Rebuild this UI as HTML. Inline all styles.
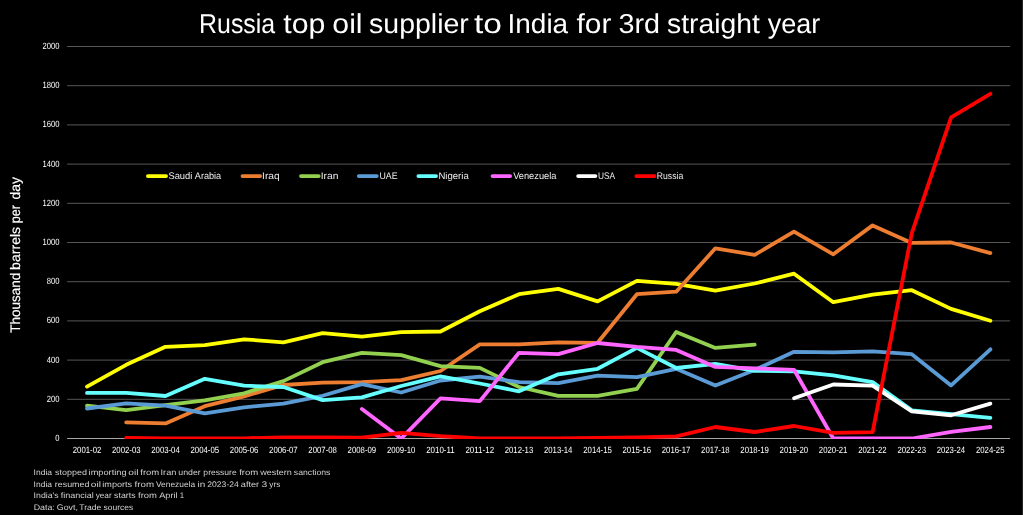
<!DOCTYPE html>
<html lang="en">
<head>
<meta charset="utf-8">
<title>Russia top oil supplier to India for 3rd straight year</title>
<style>
html,body{margin:0;padding:0;background:#000;}
body{width:1024px;height:515px;overflow:hidden;position:relative;}
svg{position:absolute;left:0;top:0;display:block;}
text{font-family:"Liberation Sans","DejaVu Sans",sans-serif;fill:#fff;white-space:pre;text-rendering:geometricPrecision;}
.grid line{stroke:#575757;stroke-width:1;}
.axis{stroke:#a6a6a6;stroke-width:1;}
.tick{font-size:9.0px;fill:#f8f8f8;}
.leg{font-size:9.6px;fill:#ececec;}
.note{font-size:8.1px;fill:#d2d2d2;}
.series path{fill:none;stroke-width:3.8;stroke-linecap:round;stroke-linejoin:round;}
.legend line{stroke-width:3.8;stroke-linecap:round;}
</style>
</head>
<body>
<svg width="1024" height="515" viewBox="0 0 1024 515">
<defs><clipPath id="plot"><rect x="0" y="0" width="1024" height="439"/></clipPath></defs>
<rect x="0" y="0" width="1024" height="515" fill="#000"/>
<rect x="1022.85" y="0" width="1.15" height="515" fill="#fff"/>

<text y="33.3" font-size="27.4" xml:space="preserve"><tspan x="199.05" textLength="83.05" lengthAdjust="spacingAndGlyphs">Russia </tspan><tspan x="283.39" textLength="50.40" lengthAdjust="spacingAndGlyphs">top </tspan><tspan x="332.36" textLength="38.59" lengthAdjust="spacingAndGlyphs">oil </tspan><tspan x="369.12" textLength="107.63" lengthAdjust="spacingAndGlyphs">supplier </tspan><tspan x="474.04" textLength="37.20" lengthAdjust="spacingAndGlyphs">to </tspan><tspan x="507.55" textLength="68.34" lengthAdjust="spacingAndGlyphs">India </tspan><tspan x="576.49" textLength="43.23" lengthAdjust="spacingAndGlyphs">for </tspan><tspan x="618.45" textLength="49.54" lengthAdjust="spacingAndGlyphs">3rd </tspan><tspan x="667.03" textLength="100.64" lengthAdjust="spacingAndGlyphs">straight </tspan><tspan x="767.78" textLength="52.54" lengthAdjust="spacingAndGlyphs">year</tspan></text>
<text transform="translate(19.8,332.6) rotate(-90)" y="0" font-size="13.8" stroke="#fff" stroke-width="0.15" xml:space="preserve"><tspan x="-0.24" textLength="63.74" lengthAdjust="spacingAndGlyphs">Thousand </tspan><tspan x="62.71" textLength="46.94" lengthAdjust="spacingAndGlyphs">barrels </tspan><tspan x="109.29" textLength="21.92" lengthAdjust="spacingAndGlyphs">per </tspan><tspan x="133.07" textLength="22.43" lengthAdjust="spacingAndGlyphs">day</tspan></text>
<g class="grid">
<line x1="67.1" x2="1010.1" y1="399.30" y2="399.30"/>
<line x1="67.1" x2="1010.1" y1="360.10" y2="360.10"/>
<line x1="67.1" x2="1010.1" y1="320.90" y2="320.90"/>
<line x1="67.1" x2="1010.1" y1="281.70" y2="281.70"/>
<line x1="67.1" x2="1010.1" y1="242.50" y2="242.50"/>
<line x1="67.1" x2="1010.1" y1="203.30" y2="203.30"/>
<line x1="67.1" x2="1010.1" y1="164.10" y2="164.10"/>
<line x1="67.1" x2="1010.1" y1="124.90" y2="124.90"/>
<line x1="67.1" x2="1010.1" y1="85.70" y2="85.70"/>
<line x1="67.1" x2="1010.1" y1="46.50" y2="46.50"/>
</g>
<line class="axis" x1="67.1" x2="1010.1" y1="438.5" y2="438.5"/>
<g class="tick">
<text y="440.95"><tspan x="55.24" textLength="4.25" lengthAdjust="spacingAndGlyphs">0</tspan></text>
<text y="401.75"><tspan x="46.77" textLength="12.72" lengthAdjust="spacingAndGlyphs">200</tspan></text>
<text y="362.55"><tspan x="46.77" textLength="12.72" lengthAdjust="spacingAndGlyphs">400</tspan></text>
<text y="323.35"><tspan x="46.77" textLength="12.72" lengthAdjust="spacingAndGlyphs">600</tspan></text>
<text y="284.15"><tspan x="46.77" textLength="12.72" lengthAdjust="spacingAndGlyphs">800</tspan></text>
<text y="244.95"><tspan x="42.43" textLength="16.96" lengthAdjust="spacingAndGlyphs">1000</tspan></text>
<text y="205.75"><tspan x="42.43" textLength="16.96" lengthAdjust="spacingAndGlyphs">1200</tspan></text>
<text y="166.55"><tspan x="42.43" textLength="16.96" lengthAdjust="spacingAndGlyphs">1400</tspan></text>
<text y="127.35"><tspan x="42.43" textLength="16.96" lengthAdjust="spacingAndGlyphs">1600</tspan></text>
<text y="88.15"><tspan x="42.43" textLength="16.96" lengthAdjust="spacingAndGlyphs">1800</tspan></text>
<text y="48.95"><tspan x="42.43" textLength="16.96" lengthAdjust="spacingAndGlyphs">2000</tspan></text>
</g>
<g class="tick">
<text y="452.9"><tspan x="72.73" textLength="28.58" lengthAdjust="spacingAndGlyphs">2001-02</tspan></text>
<text y="452.9"><tspan x="112.00" textLength="28.58" lengthAdjust="spacingAndGlyphs">2002-03</tspan></text>
<text y="452.9"><tspan x="151.27" textLength="28.47" lengthAdjust="spacingAndGlyphs">2003-04</tspan></text>
<text y="452.9"><tspan x="190.54" textLength="28.58" lengthAdjust="spacingAndGlyphs">2004-05</tspan></text>
<text y="452.9"><tspan x="229.81" textLength="28.58" lengthAdjust="spacingAndGlyphs">2005-06</tspan></text>
<text y="452.9"><tspan x="269.08" textLength="28.58" lengthAdjust="spacingAndGlyphs">2006-07</tspan></text>
<text y="452.9"><tspan x="308.35" textLength="28.58" lengthAdjust="spacingAndGlyphs">2007-08</tspan></text>
<text y="452.9"><tspan x="347.62" textLength="28.58" lengthAdjust="spacingAndGlyphs">2008-09</tspan></text>
<text y="452.9"><tspan x="386.89" textLength="28.47" lengthAdjust="spacingAndGlyphs">2009-10</tspan></text>
<text y="452.9"><tspan x="426.15" textLength="28.67" lengthAdjust="spacingAndGlyphs">2010-11</tspan></text>
<text y="452.9"><tspan x="465.42" textLength="28.67" lengthAdjust="spacingAndGlyphs">2011-12</tspan></text>
<text y="452.9"><tspan x="504.70" textLength="28.58" lengthAdjust="spacingAndGlyphs">2012-13</tspan></text>
<text y="452.9"><tspan x="543.97" textLength="28.47" lengthAdjust="spacingAndGlyphs">2013-14</tspan></text>
<text y="452.9"><tspan x="583.24" textLength="28.58" lengthAdjust="spacingAndGlyphs">2014-15</tspan></text>
<text y="452.9"><tspan x="622.51" textLength="28.58" lengthAdjust="spacingAndGlyphs">2015-16</tspan></text>
<text y="452.9"><tspan x="661.78" textLength="28.58" lengthAdjust="spacingAndGlyphs">2016-17</tspan></text>
<text y="452.9"><tspan x="701.05" textLength="28.58" lengthAdjust="spacingAndGlyphs">2017-18</tspan></text>
<text y="452.9"><tspan x="740.32" textLength="28.58" lengthAdjust="spacingAndGlyphs">2018-19</tspan></text>
<text y="452.9"><tspan x="779.59" textLength="28.47" lengthAdjust="spacingAndGlyphs">2019-20</tspan></text>
<text y="452.9"><tspan x="818.86" textLength="28.58" lengthAdjust="spacingAndGlyphs">2020-21</tspan></text>
<text y="452.9"><tspan x="858.13" textLength="28.58" lengthAdjust="spacingAndGlyphs">2021-22</tspan></text>
<text y="452.9"><tspan x="897.40" textLength="28.58" lengthAdjust="spacingAndGlyphs">2022-23</tspan></text>
<text y="452.9"><tspan x="936.67" textLength="28.47" lengthAdjust="spacingAndGlyphs">2023-24</tspan></text>
<text y="452.9"><tspan x="975.94" textLength="28.58" lengthAdjust="spacingAndGlyphs">2024-25</tspan></text>
</g>
<g class="series" clip-path="url(#plot)">
<path stroke="#ffff00" d="M87.0,386.6 L126.2,364.8 L165.5,346.8 L204.8,345.2 L244.1,339.3 L283.4,342.3 L322.6,333.1 L361.9,336.6 L401.2,332.1 L440.5,331.5 L479.8,311.2 L519.0,294.2 L558.3,288.9 L597.6,301.4 L636.9,280.9 L676.2,283.9 L715.4,290.7 L754.7,283.5 L794.0,273.7 L833.3,302.2 L872.6,294.7 L911.8,290.2 L951.1,308.9 L990.4,320.8"/>
<path stroke="#ed7d31" d="M126.2,422.4 L165.5,423.4 L204.8,406.2 L244.1,396.3 L283.4,385.0 L322.6,382.7 L361.9,382.1 L401.2,380.2 L440.5,371.0 L479.8,344.4 L519.0,344.4 L558.3,342.4 L597.6,342.8 L636.9,294.2 L676.2,291.7 L715.4,248.3 L754.7,254.8 L794.0,231.7 L833.3,254.3 L872.6,225.4 L911.8,242.9 L951.1,242.5 L990.4,253.1"/>
<path stroke="#92d050" d="M87.0,405.6 L126.2,410.1 L165.5,405.2 L204.8,400.3 L244.1,393.3 L283.4,381.1 L322.6,362.2 L361.9,352.8 L401.2,355.2 L440.5,366.1 L479.8,367.9 L519.0,387.0 L558.3,395.8 L597.6,395.8 L636.9,388.9 L676.2,332.0 L715.4,347.9 L754.7,344.6"/>
<path stroke="#5b9bd5" d="M87.0,408.5 L126.2,403.4 L165.5,405.6 L204.8,413.4 L244.1,407.3 L283.4,403.6 L322.6,395.8 L361.9,384.1 L401.2,392.5 L440.5,380.5 L479.8,376.6 L519.0,382.1 L558.3,383.1 L597.6,375.7 L636.9,377.2 L676.2,368.8 L715.4,385.6 L754.7,370.0 L794.0,351.8 L833.3,352.4 L872.6,351.4 L911.8,354.2 L951.1,385.4 L990.4,349.3"/>
<path stroke="#66ffff" d="M87.0,392.9 L126.2,392.9 L165.5,396.0 L204.8,378.8 L244.1,385.7 L283.4,387.0 L322.6,400.1 L361.9,397.3 L401.2,386.0 L440.5,376.3 L479.8,383.5 L519.0,391.3 L558.3,374.3 L597.6,368.8 L636.9,347.9 L676.2,368.0 L715.4,363.9 L754.7,370.8 L794.0,371.4 L833.3,375.3 L872.6,382.1 L911.8,410.3 L951.1,414.2 L990.4,417.9"/>
<path stroke="#ff66ff" d="M361.9,408.9 L401.2,438.5 L440.5,398.4 L479.8,401.1 L519.0,352.8 L558.3,354.2 L597.6,343.0 L636.9,346.9 L676.2,349.9 L715.4,366.9 L754.7,368.4 L794.0,369.8 L833.3,438.5 L872.6,438.5 L911.8,438.5 L951.1,431.9 L990.4,427.0"/>
<path stroke="#ffffff" d="M794.0,398.2 L833.3,384.5 L872.6,385.6 L911.8,411.4 L951.1,415.3 L990.4,403.6"/>
<path stroke="#ff0000" d="M126.2,438.0 L165.5,438.5 L204.8,438.5 L244.1,438.3 L283.4,437.3 L322.6,437.3 L361.9,437.6 L401.2,432.9 L440.5,436.2 L479.8,438.5 L519.0,438.5 L558.3,438.5 L597.6,438.0 L636.9,437.3 L676.2,436.4 L715.4,427.0 L754.7,432.0 L794.0,426.0 L833.3,432.9 L872.6,432.1 L911.8,233.2 L951.1,117.3 L990.4,93.8"/>
</g>
<g class="legend">
<line x1="147.90" x2="166.05" y1="176.1" y2="176.1" stroke="#ffff00"/>
<text class="leg" y="178.8" xml:space="preserve"><tspan x="168.41" textLength="26.53" lengthAdjust="spacingAndGlyphs">Saudi </tspan><tspan x="194.80" textLength="26.39" lengthAdjust="spacingAndGlyphs">Arabia</tspan></text>
<line x1="242.50" x2="260.20" y1="176.1" y2="176.1" stroke="#ed7d31"/>
<text class="leg" y="178.8" xml:space="preserve"><tspan x="262.07" textLength="17.59" lengthAdjust="spacingAndGlyphs">Iraq</tspan></text>
<line x1="301.00" x2="318.70" y1="176.1" y2="176.1" stroke="#92d050"/>
<text class="leg" y="178.8" xml:space="preserve"><tspan x="320.71" textLength="17.71" lengthAdjust="spacingAndGlyphs">Iran</tspan></text>
<line x1="358.80" x2="376.80" y1="176.1" y2="176.1" stroke="#5b9bd5"/>
<text class="leg" y="178.8" xml:space="preserve"><tspan x="379.46" textLength="18.07" lengthAdjust="spacingAndGlyphs">UAE</tspan></text>
<line x1="418.40" x2="436.05" y1="176.1" y2="176.1" stroke="#66ffff"/>
<text class="leg" y="178.8" xml:space="preserve"><tspan x="438.40" textLength="30.33" lengthAdjust="spacingAndGlyphs">Nigeria</tspan></text>
<line x1="492.50" x2="510.20" y1="176.1" y2="176.1" stroke="#ff66ff"/>
<text class="leg" y="178.8" xml:space="preserve"><tspan x="513.15" textLength="43.24" lengthAdjust="spacingAndGlyphs">Venezuela</tspan></text>
<line x1="578.15" x2="595.40" y1="176.1" y2="176.1" stroke="#ffffff"/>
<text class="leg" y="178.8" xml:space="preserve"><tspan x="598.05" textLength="17.14" lengthAdjust="spacingAndGlyphs">USA</tspan></text>
<line x1="636.30" x2="654.55" y1="176.1" y2="176.1" stroke="#ff0000"/>
<text class="leg" y="178.8" xml:space="preserve"><tspan x="656.82" textLength="26.43" lengthAdjust="spacingAndGlyphs">Russia</tspan></text>
</g>
<text class="note" y="475.1" xml:space="preserve"><tspan x="33.61" textLength="20.84" lengthAdjust="spacingAndGlyphs">India </tspan><tspan x="55.12" textLength="34.50" lengthAdjust="spacingAndGlyphs">stopped </tspan><tspan x="88.58" textLength="40.62" lengthAdjust="spacingAndGlyphs">importing </tspan><tspan x="128.28" textLength="13.00" lengthAdjust="spacingAndGlyphs">oil </tspan><tspan x="140.25" textLength="21.65" lengthAdjust="spacingAndGlyphs">from </tspan><tspan x="160.55" textLength="18.35" lengthAdjust="spacingAndGlyphs">Iran </tspan><tspan x="178.36" textLength="24.86" lengthAdjust="spacingAndGlyphs">under </tspan><tspan x="203.37" textLength="35.76" lengthAdjust="spacingAndGlyphs">pressure </tspan><tspan x="239.20" textLength="21.83" lengthAdjust="spacingAndGlyphs">from </tspan><tspan x="260.15" textLength="34.24" lengthAdjust="spacingAndGlyphs">western </tspan><tspan x="293.88" textLength="36.57" lengthAdjust="spacingAndGlyphs">sanctions</tspan></text>
<text class="note" y="486.7" xml:space="preserve"><tspan x="33.61" textLength="20.84" lengthAdjust="spacingAndGlyphs">India </tspan><tspan x="54.85" textLength="36.96" lengthAdjust="spacingAndGlyphs">resumed </tspan><tspan x="90.78" textLength="13.00" lengthAdjust="spacingAndGlyphs">oil </tspan><tspan x="102.34" textLength="32.38" lengthAdjust="spacingAndGlyphs">imports </tspan><tspan x="134.60" textLength="22.18" lengthAdjust="spacingAndGlyphs">from </tspan><tspan x="156.02" textLength="41.34" lengthAdjust="spacingAndGlyphs">Venezuela </tspan><tspan x="197.64" textLength="10.52" lengthAdjust="spacingAndGlyphs">in </tspan><tspan x="207.25" textLength="33.96" lengthAdjust="spacingAndGlyphs">2023-24 </tspan><tspan x="240.82" textLength="20.91" lengthAdjust="spacingAndGlyphs">after </tspan><tspan x="261.57" textLength="8.57" lengthAdjust="spacingAndGlyphs">3 </tspan><tspan x="269.35" textLength="11.05" lengthAdjust="spacingAndGlyphs">yrs</tspan></text>
<text class="note" y="497.8" xml:space="preserve"><tspan x="33.59" textLength="27.56" lengthAdjust="spacingAndGlyphs">India&#39;s </tspan><tspan x="60.76" textLength="35.48" lengthAdjust="spacingAndGlyphs">financial </tspan><tspan x="95.65" textLength="18.37" lengthAdjust="spacingAndGlyphs">year </tspan><tspan x="114.13" textLength="23.99" lengthAdjust="spacingAndGlyphs">starts </tspan><tspan x="138.00" textLength="21.65" lengthAdjust="spacingAndGlyphs">from </tspan><tspan x="159.15" textLength="21.08" lengthAdjust="spacingAndGlyphs">April </tspan><tspan x="179.84" textLength="4.39" lengthAdjust="spacingAndGlyphs">1</tspan></text>
<text class="note" y="509.9" xml:space="preserve"><tspan x="33.72" textLength="23.53" lengthAdjust="spacingAndGlyphs">Data: </tspan><tspan x="56.84" textLength="23.55" lengthAdjust="spacingAndGlyphs">Govt, </tspan><tspan x="79.27" textLength="24.48" lengthAdjust="spacingAndGlyphs">Trade </tspan><tspan x="103.49" textLength="29.72" lengthAdjust="spacingAndGlyphs">sources</tspan></text>
</svg>
</body>
</html>
